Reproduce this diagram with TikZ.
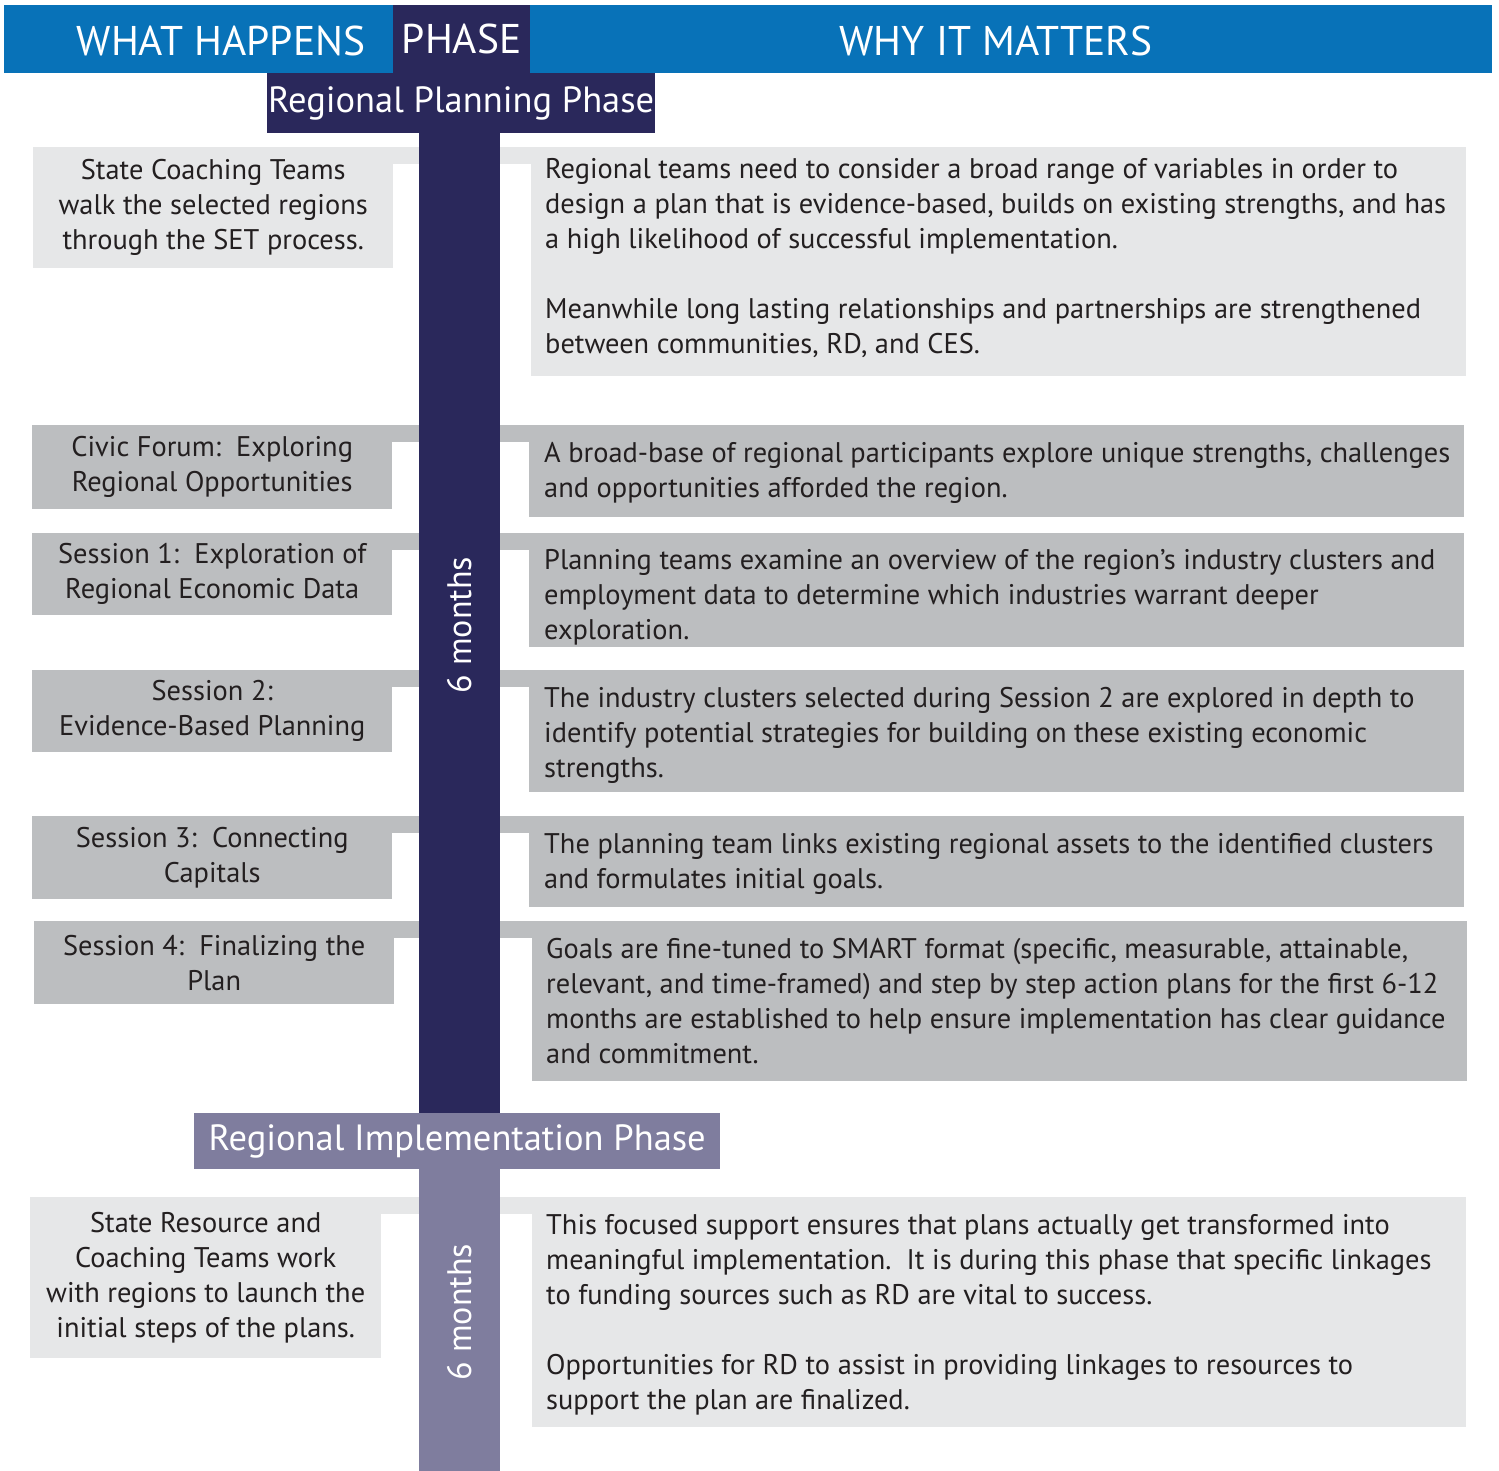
\documentclass[tikz,border=0pt]{standalone}
\usepackage{fontspec}
\setmainfont{PT Sans}
\usetikzlibrary{positioning}

\definecolor{hdrblue}{HTML}{0872B8}
\definecolor{navy}{HTML}{2A285B}
\definecolor{lilac}{HTML}{7F7D9E}
\definecolor{palegray}{HTML}{E6E7E8}
\definecolor{midgray}{HTML}{BCBEC0}
\definecolor{ink}{HTML}{231F20}

\tikzset{
  body/.style={font=\fontsize{28.4}{35}\selectfont, text=ink},
  lbox/.style={body, anchor=north west, inner sep=0pt, align=center, minimum width=360pt},
  rbox/.style={anchor=north west, inner sep=0pt, minimum width=935pt},
  rtext/.style={body, anchor=west, align=left, inner sep=0pt},
  head/.style={text=white, font=\fontsize{41.5}{41.5}\selectfont, inner sep=0pt},
  phasebox/.style={anchor=north west, inner sep=0pt, text=white, font=\fontsize{36.5}{36.5}\selectfont},
  months/.style={text=white, rotate=90, font=\fontsize{34}{34}\selectfont, inner sep=0pt},
}

\begin{document}
\begin{tikzpicture}[x=1pt,y=-1pt]
\useasboundingbox (0,0) rectangle (1499,1471);

% header band
\fill[hdrblue] (4,5) rectangle (1492,73);
\node[head, fill=navy, anchor=north west, minimum width=137pt, minimum height=68pt] (phase) at (393,5) {PHASE};
\node[head] (what) at (221,41) {WHAT HAPPENS};
\node[head] (why) at (996,41) {WHY IT MATTERS};

% left column
\node[lbox, fill=palegray, minimum height=121pt] (l1) at (33,147)
  {State Coaching Teams\\walk the selected regions\\through the SET process.};
\node[lbox, fill=midgray, minimum height=84pt] (l2) at (32,425)
  {Civic Forum:\ \ Exploring\\Regional Opportunities};
\node[lbox, fill=midgray, minimum height=82pt] (l3) at (32,533)
  {Session 1:\ \ Exploration of\\Regional Economic Data};
\node[lbox, fill=midgray, minimum height=82pt] (l4) at (32,670)
  {Session 2:\\Evidence-Based Planning};
\node[lbox, fill=midgray, minimum height=83pt] (l5) at (32,816)
  {Session 3:\ \ Connecting\\Capitals};
\node[lbox, fill=midgray, minimum height=83pt] (l6) at (34,921)
  {Session 4:\ \ Finalizing the\\Plan};
\node[lbox, fill=palegray, minimum width=351pt, minimum height=161pt] (l7) at (30,1197)
  {State Resource and\\Coaching Teams work\\with regions to launch the\\initial steps of the plans.};

% right column
\node[rbox, fill=palegray, minimum height=229pt] (r1) at (531,147) {};
\node[rbox, fill=midgray, minimum height=92pt] (r2) at (529,425) {};
\node[rbox, fill=midgray, minimum height=114pt] (r3) at (529,533) {};
\node[rbox, fill=midgray, minimum height=122pt] (r4) at (529,670) {};
\node[rbox, fill=midgray, minimum height=91pt] (r5) at (529,816) {};
\node[rbox, fill=midgray, minimum height=160pt] (r6) at (532,921) {};
\node[rbox, fill=palegray, minimum width=934pt, minimum height=230pt] (r7) at (532,1197) {};

% strips joining each pair
\foreach \i/\c in {1/palegray,2/midgray,3/midgray,4/midgray,5/midgray,6/midgray,7/palegray}
  \fill[\c] (l\i.north east) rectangle ([yshift=-17pt]r\i.north west);

\node[rtext] (t1) at ([xshift=14pt,yshift=4pt]r1.west)
  {Regional teams need to consider a broad range of variables in order to\\
   design a plan that is evidence-based, builds on existing strengths, and has\\
   a high likelihood of successful implementation.\\[35pt]
   Meanwhile long lasting relationships and partnerships are strengthened\\
   between communities, RD, and CES.};
\node[rtext] (t2) at ([xshift=15pt,yshift=-2pt]r2.west)
  {A broad-base of regional participants explore unique strengths, challenges\\
   and opportunities afforded the region.};
\node[rtext] (t3) at ([xshift=15pt,yshift=-7pt]r3.west)
  {Planning teams examine an overview of the region’s industry clusters and\\
   employment data to determine which industries warrant deeper\\
   exploration.};
\node[rtext] (t4) at ([xshift=15pt,yshift=-4pt]r4.west)
  {The industry clusters selected during Session 2 are explored in depth to\\
   identify potential strategies for building on these existing economic\\
   strengths.};
\node[rtext] (t5) at ([xshift=15pt,yshift=-2pt]r5.west)
  {The planning team links existing regional assets to the identified clusters\\
   and formulates initial goals.};
\node[rtext] (t6) at ([xshift=14pt]r6.west)
  {Goals are fine-tuned to SMART format (specific, measurable, attainable,\\
   relevant, and time-framed) and step by step action plans for the first 6-12\\
   months are established to help ensure implementation has clear guidance\\
   and commitment.};
\node[rtext] (t7) at ([xshift=14pt,yshift=-3pt]r7.west)
  {This focused support ensures that plans actually get transformed into\\
   meaningful implementation.\ \ It is during this phase that specific linkages\\
   to funding sources such as RD are vital to success.\\[35pt]
   Opportunities for RD to assist in providing linkages to resources to\\
   support the plan are finalized.};

% timeline bars
\node[phasebox, fill=navy, minimum width=388pt, minimum height=60pt] (plan) at (267,73) {Regional Planning Phase};
\fill[navy] (419,133) rectangle (500,1113);
\node[months] (m1) at (459.5,625) {6 months};
\node[phasebox, fill=lilac, minimum width=526pt, minimum height=56pt] (impl) at (194,1113) {Regional Implementation Phase};
\fill[lilac] (419,1169) rectangle (500,1471);
\node[months] (m2) at (459.5,1312) {6 months};
\end{tikzpicture}
\end{document}
